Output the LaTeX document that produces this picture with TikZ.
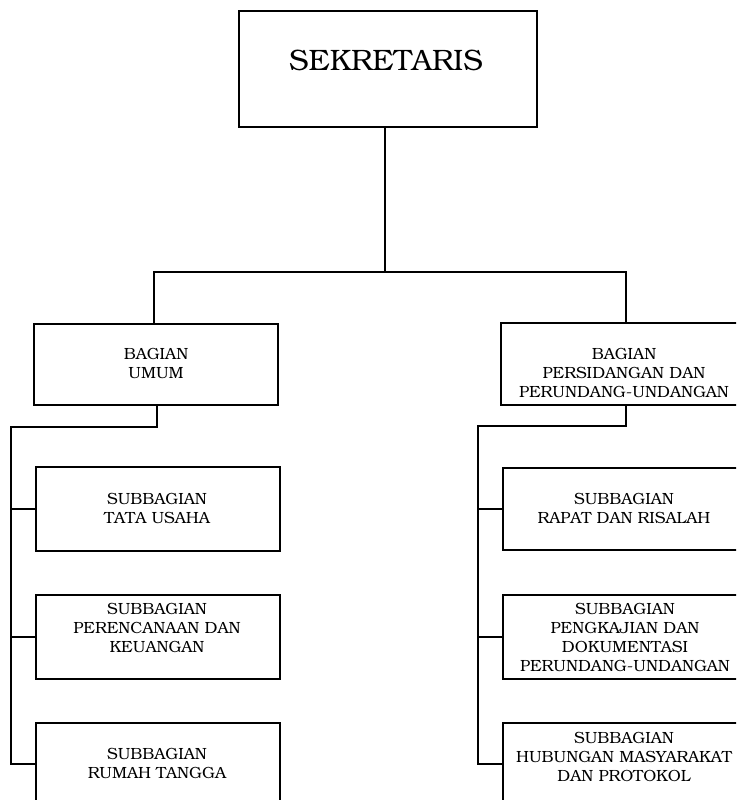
\documentclass[tikz,border=0pt]{standalone}
\usepackage[T1]{fontenc}
\usepackage{bookman}
\begin{document}
\begin{tikzpicture}[x=1pt,y=-1pt,
  box/.style={draw,line width=2pt,rectangle,anchor=north west,inner sep=0pt},
  lbl/.style={align=center,anchor=north,inner sep=0pt,font=\fontsize{16.2}{19}\selectfont},
  big/.style={align=center,anchor=north,inner sep=0pt,font=\fontsize{29.5}{36}\selectfont},
  conn/.style={line width=2pt}]
\clip (0,0) rectangle (736,800);
% boxes
\node[box,minimum width=298pt,minimum height=116pt] (sek) at (238,10) {};
\node[box,minimum width=244pt,minimum height=81pt] (umum) at (33,323) {};
\node[box,minimum width=250pt,minimum height=82pt] (pers) at (500,322) {};
\node[box,minimum width=244pt,minimum height=84pt] (tu) at (35,466) {};
\node[box,minimum width=244pt,minimum height=84pt] (pk) at (35,594) {};
\node[box,minimum width=244pt,minimum height=82pt] (rt) at (35,722) {};
\node[box,minimum width=250pt,minimum height=82pt] (rr) at (502,467) {};
\node[box,minimum width=250pt,minimum height=84pt] (pd) at (502,594) {};
\node[box,minimum width=250pt,minimum height=82pt] (hm) at (502,722) {};
% texts
\node[big] (tsek) at (386,50) {SEKRETARIS};
\node[lbl] (tumum) at (156,348) {BAGIAN\\UMUM};
\node[lbl] (tpers) at (624,348) {BAGIAN\\PERSIDANGAN DAN\\PERUNDANG-UNDANGAN};
\node[lbl] (ttu) at (157,493) {SUBBAGIAN\\TATA USAHA};
\node[lbl] (tpk) at (157,603) {SUBBAGIAN\\PERENCANAAN DAN\\KEUANGAN};
\node[lbl] (trt) at (157,748) {SUBBAGIAN\\RUMAH TANGGA};
\node[lbl] (trr) at (624,493) {SUBBAGIAN\\RAPAT DAN RISALAH};
\node[lbl] (tpd) at (625,603) {SUBBAGIAN\\PENGKAJIAN DAN\\DOKUMENTASI\\PERUNDANG-UNDANGAN};
\node[lbl] (thm) at (624,732) {SUBBAGIAN\\HUBUNGAN MASYARAKAT\\DAN PROTOKOL};
% connector points
\coordinate (bar) at (385,272);
\coordinate (ls) at (11,427);
\coordinate (rs) at (478,426);
% connectors
\draw[conn] (sek.south -| bar) -- (bar);
\draw[conn] (umum.north -| 154,0) |- (bar) -| (pers.north -| 626,0);
\draw[conn] (umum.south -| 157,0) |- (ls) |- (rt.west);
\draw[conn] (ls |- tu.west) -- (tu.west);
\draw[conn] (ls |- pk.west) -- (pk.west);
\draw[conn] (pers.south -| 626,0) |- (rs) |- (hm.west);
\draw[conn] (rs |- rr.west) -- (rr.west);
\draw[conn] (rs |- pd.west) -- (pd.west);
\end{tikzpicture}
\end{document}
